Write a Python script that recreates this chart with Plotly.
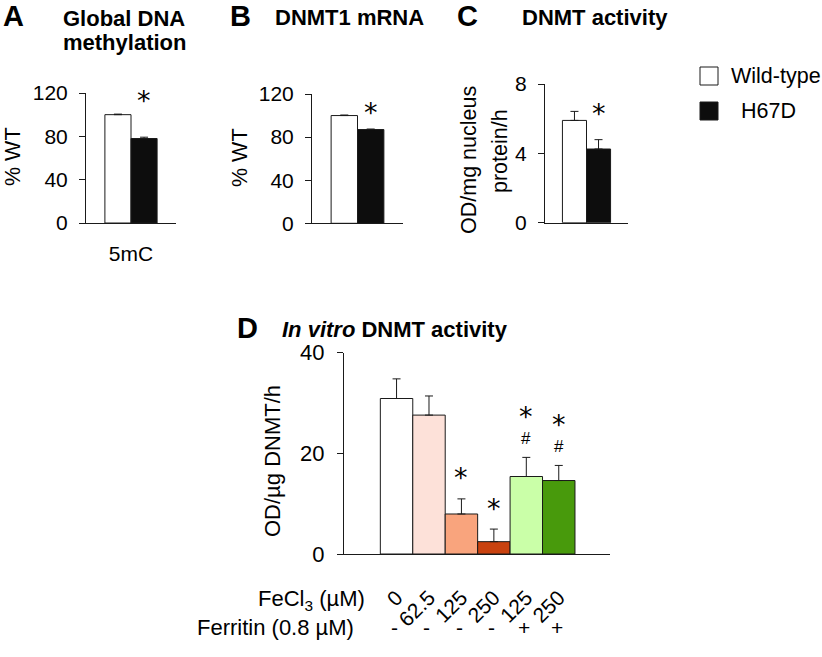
import plotly.graph_objects as go

# ---------------- data ----------------
groups = ["Wild-type", "H67D"]
a_values = [100, 78]
a_errors = [0.5, 1.2]
b_values = [100, 87]
b_errors = [0.5, 0.5]
c_values = [5.9, 4.25]
c_errors = [0.52, 0.54]

d_fecl3 = ["0", "62.5", "125", "250", "125", "250"]
d_ferritin = ["-", "-", "-", "-", "+", "+"]
d_values = [30.9, 27.6, 7.95, 2.45, 15.4, 14.6]
d_errors = [3.9, 3.8, 3.0, 2.5, 3.8, 3.0]
d_star = [False, False, True, True, True, True]
d_hash = [False, False, False, False, True, True]

# ---------------- style ----------------
W, H = 822, 657
FONT = "Liberation Sans, Arial, sans-serif"
LINE = "#1a1a1a"
group_fill = ["white", "#0d0d0d"]
d_colors = ["#ffffff", "#fde1d9", "#f9a47d", "#c9420f", "#caffa8", "#489a0c"]


def xd(a, b):
    return [a / W, b / W]


def yd(top, bottom):
    return [1 - bottom / H, 1 - top / H]


fig = go.Figure()

BW = 0.29  # bar width (category units) for panels A-C
panels = [("x", "y", a_values, a_errors), ("x2", "y2", b_values, b_errors),
          ("x3", "y3", c_values, c_errors)]
for xa, ya, vals, errs in panels:
    for i, g in enumerate(groups):
        fig.add_trace(go.Bar(
            x=[0], y=[vals[i]], width=[BW], offset=[-BW if i == 0 else 0],
            marker=dict(color=group_fill[i], line=dict(color=LINE, width=1)),
            error_y=dict(type="data", symmetric=False, array=[errs[i]],
                         arrayminus=[0], color=LINE, thickness=1, width=4),
            xaxis=xa, yaxis=ya, showlegend=False, name=g))

fig.add_trace(go.Bar(
    x=list(range(len(d_values))), y=d_values, width=1,
    marker=dict(color=d_colors, line=dict(color=LINE, width=1)),
    error_y=dict(type="data", symmetric=False, array=d_errors,
                 arrayminus=[0] * len(d_values), color=LINE, thickness=1, width=4),
    xaxis="x4", yaxis="y4", showlegend=False))

yax_common = dict(showline=True, linecolor=LINE, linewidth=1, ticks="outside",
                  ticklen=6, tickcolor=LINE, showgrid=False, zeroline=False,
                  automargin=False, ticklabelstandoff=7,
                  tickfont=dict(family=FONT, size=21, color="black"))
xax_common = dict(showline=True, linecolor=LINE, linewidth=1, ticks="",
                  showgrid=False, zeroline=False, type="linear", automargin=False,
                  tickfont=dict(family=FONT, size=21, color="black"))

fig.update_layout(
    template="none",
    width=W, height=H, margin=dict(l=0, r=0, t=0, b=0, pad=0, autoexpand=False),
    paper_bgcolor="white", plot_bgcolor="white", barmode="overlay", showlegend=False,
    xaxis=dict(xax_common, domain=xd(86, 176), range=[-0.5, 0.5], anchor="y",
               tickvals=[0], ticktext=["5mC"], ticklabelstandoff=12),
    yaxis=dict(yax_common, domain=yd(93, 223), range=[0, 120], anchor="x",
               tickvals=[0, 40, 80, 120]),
    xaxis2=dict(xax_common, domain=xd(312, 403), range=[-0.5, 0.5], anchor="y2",
                showticklabels=False),
    yaxis2=dict(yax_common, domain=yd(94, 223.3), range=[0, 120], anchor="x2",
                tickvals=[0, 40, 80, 120]),
    xaxis3=dict(xax_common, domain=xd(545, 628), range=[-0.5, 0.5], anchor="y3",
                showticklabels=False),
    yaxis3=dict(yax_common, domain=yd(84, 222.7), range=[0, 8], anchor="x3",
                tickvals=[0, 4, 8]),
    xaxis4=dict(xax_common, domain=xd(344, 610), range=[-1.62, 6.58], anchor="y4",
                tickvals=list(range(len(d_fecl3))), ticktext=d_fecl3,
                tickangle=-45, ticklabelstandoff=22),
    yaxis4=dict(yax_common, domain=yd(352.7, 554), range=[0, 40], anchor="x4",
                tickvals=[0, 20, 40], ticklabelstandoff=8,
                tickfont=dict(family=FONT, size=22, color="black")),
)

ann = []


def ptext(text, x, y, size, bold=False, angle=0, xanchor="center"):
    if bold:
        text = "<b>" + text + "</b>"
    ann.append(dict(text=text, x=x / W, y=1 - y / H, xref="paper",
                    yref="paper", showarrow=False, textangle=angle, xanchor=xanchor,
                    yanchor="middle", font=dict(family=FONT, size=size, color="black")))


# panel letters & titles
ptext("A", 13, 16, 29, bold=True)
ptext("B", 241, 16, 29, bold=True)
ptext("C", 467, 16, 29, bold=True)
ptext("D", 247, 328, 29, bold=True)
ptext("Global DNA", 124, 18, 22, bold=True)
ptext("methylation", 124, 43, 22, bold=True)
ptext("DNMT1 mRNA", 349, 17, 22, bold=True)
ptext("DNMT activity", 595, 17, 22, bold=True)
ptext("<i>In vitro</i> DNMT activity", 395, 329, 22, bold=True)

# y titles
ptext("% WT", 13, 157, 21.5, angle=-90)
ptext("% WT", 240, 157, 21.5, angle=-90)
ptext("OD/mg nucleus", 469, 160, 21.5, angle=-90)
ptext("protein/h", 500, 151, 21.5, angle=-90)
ptext("OD/µg DNMT/h", 272, 461, 22, angle=-90)

# bottom labels for D
ptext("FeCl<sub>3</sub> (µM)", 367, 600, 22, xanchor="right")
ptext("Ferritin (0.8 µM)", 356, 627, 22, xanchor="right")
for i, s in enumerate(d_ferritin):
    ann.append(dict(text=s, x=i, y=1 - 627 / H, xref="x4", yref="paper",
                    xshift=-2, showarrow=False, yanchor="middle",
                    font=dict(family=FONT, size=21, color="black")))

# significance markers
STAR = dict(family="DejaVu Sans, sans-serif", size=27, color="black")
HASH = dict(family=FONT, size=17, color="black")


def star(xref, yref, x, y, shift, font=STAR, text="*"):
    ann.append(dict(text=text, x=x, y=y, xref=xref, yref=yref, showarrow=False,
                    yanchor="middle", yshift=shift, font=font))


star("x", "y", BW / 2, a_values[1] + a_errors[1], 37)
star("x2", "y2", BW / 2, b_values[1] + b_errors[1], 17)
star("x3", "y3", BW / 2, c_values[1] + c_errors[1], 26)
for i in range(len(d_values)):
    top = d_values[i] + d_errors[i]
    if d_hash[i]:
        star("x4", "y4", i, top, 19, font=HASH, text="#")
        star("x4", "y4", i, top, 41)
    elif d_star[i]:
        star("x4", "y4", i, top, 21)

# legend
shapes = []
for i, g in enumerate(groups):
    y0, y1 = [(67, 85), (102, 120)][i]
    shapes.append(dict(type="rect", xref="paper", yref="paper",
                       x0=700 / W, x1=718 / W,
                       y0=1 - y1 / H, y1=1 - y0 / H,
                       fillcolor=group_fill[i], line=dict(color=LINE, width=1)))
    ptext(g, [729, 739][i], [76, 111][i], 21.5, xanchor="left")

fig.update_layout(annotations=ann, shapes=shapes)
fig.write_html("out.html", config={"displayModeBar": False},
               post_script="document.body.style.margin='0px';"
                           "document.body.style.overflow='hidden';")
